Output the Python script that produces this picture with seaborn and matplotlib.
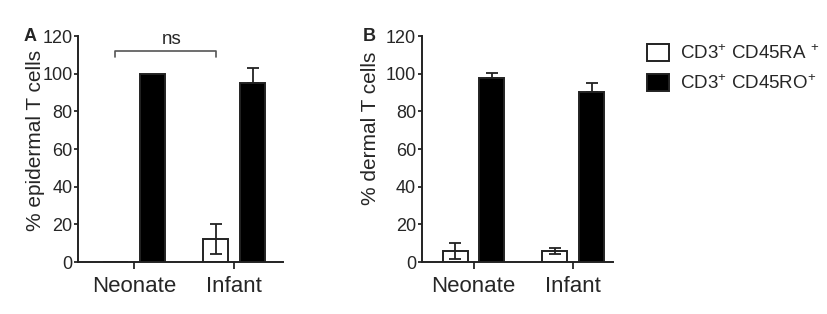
import numpy as np
import pandas as pd
import matplotlib
matplotlib.use("Agg")
import matplotlib.pyplot as plt
import seaborn as sns

# -----------------------------
# Data
# -----------------------------
groups = ["Neonate", "Infant"]
subsets = ["CD45RA", "CD45RO"]

epi_ra_mean = [0, 12]
epi_ra_sd = [0, 8]
epi_ro_mean = [100, 95]
epi_ro_sd = [0, 8]

derm_ra_mean = [5.8, 5.8]
derm_ra_sd = [4.2, 1.7]
derm_ro_mean = [97.5, 90.5]
derm_ro_sd = [2.8, 4.5]

legend_labels = [r"CD3$^{+}$ CD45RA $^{+}$", r"CD3$^{+}$ CD45RO$^{+}$"]

sns.set_style("ticks")
plt.rcParams["font.family"] = ["Liberation Sans", "DejaVu Sans"]
plt.rcParams["mathtext.fontset"] = "custom"
plt.rcParams["mathtext.rm"] = "Liberation Sans"
plt.rcParams["mathtext.it"] = "Liberation Sans"
plt.rcParams["mathtext.bf"] = "Liberation Sans:bold"

edge = "#222222"
palette = {"CD45RA": "white", "CD45RO": "black"}


def make_df(ra_m, ra_s, ro_m, ro_s):
    return pd.DataFrame({
        "group": groups * 2,
        "subset": ["CD45RA"] * 2 + ["CD45RO"] * 2,
        "mean": list(ra_m) + list(ro_m),
        "sd": list(ra_s) + list(ro_s),
    })


def draw_panel(ax, df, xlim, ylabel, letter, letter_x):
    sns.barplot(data=df, x="group", y="mean", hue="subset", order=groups,
                hue_order=subsets, palette=palette, edgecolor=edge,
                linewidth=1.4, width=0.74, gap=0.32, errorbar=None,
                legend=False, ax=ax)
    # error bars placed on the bars seaborn drew
    bars = sorted(ax.patches, key=lambda p: p.get_x())
    order = df.set_index(["group", "subset"]).loc[
        [(g, s) for g in groups for s in subsets]]
    for p, ((g, s), row) in zip(bars, order.iterrows()):
        if row["sd"] > 0:
            low = row["sd"] if s == "CD45RA" else 0
            ax.errorbar(p.get_x() + p.get_width() / 2, row["mean"],
                        yerr=[[low], [row["sd"]]], color="#222222",
                        elinewidth=1.3, capsize=4.3, capthick=1.3, zorder=3)
    ax.set_xlim(*xlim)
    ax.set_ylim(0, 120)
    ax.set_yticks(range(0, 121, 20))
    ax.set_xlabel("")
    ax.set_ylabel(ylabel, fontsize=15)
    ax.tick_params(axis="y", labelsize=13, length=3, width=1.3, pad=1)
    ax.tick_params(axis="x", labelsize=16, length=5, width=1.3, pad=5)
    for sp in ["left", "bottom"]:
        ax.spines[sp].set_linewidth(1.4)
        ax.spines[sp].set_color("#222222")
    sns.despine(ax=ax)
    ax.text(letter_x, 1.0, letter, transform=ax.transAxes, fontsize=13,
            fontweight="bold", ha="left", va="center")
    return bars


fig = plt.figure(figsize=(8.28, 3.14), dpi=100)
axA = fig.add_axes([0.0942, 0.1656, 0.2476, 0.7197])
axB = fig.add_axes([0.5093, 0.1656, 0.2310, 0.7197])

dfA = make_df(epi_ra_mean, epi_ra_sd, epi_ro_mean, epi_ro_sd)
dfB = make_df(derm_ra_mean, derm_ra_sd, derm_ro_mean, derm_ro_sd)

barsA = draw_panel(axA, dfA, (-0.56, 1.49), "% epidermal T cells", "A", -0.265)
barsB = draw_panel(axB, dfB, (-0.52, 1.40), "% dermal T cells", "B", -0.31)
axA.yaxis.set_label_coords(-0.16, 0.54)
axB.yaxis.set_label_coords(-0.22, 0.59)

# ns bracket between the CD45RA bars in panel A
x1 = barsA[0].get_x() + barsA[0].get_width() / 2
x2 = barsA[2].get_x() + barsA[2].get_width() / 2
axA.plot([x1, x1, x2, x2], [109, 112, 112, 109], color="#555555", lw=1.2,
         clip_on=False)
axA.text((x1 + x2) / 2 + 0.06, 113.5, "ns", ha="center", va="bottom",
         fontsize=13.5)

handles = [barsB[0], barsB[1]]
fig.legend(handles, legend_labels, loc="upper left",
           bbox_to_anchor=(0.781, 0.86), frameon=False, fontsize=13.5,
           handlelength=1.2, handleheight=1.0, handletextpad=0.6,
           labelspacing=0.6, borderpad=0, borderaxespad=0)

fig.savefig("out.png", dpi=100)
